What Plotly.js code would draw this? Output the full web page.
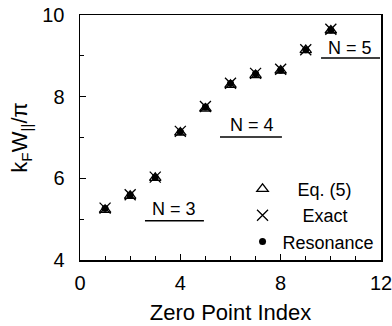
<!DOCTYPE html>
<html><head><meta charset="utf-8">
<script src="https://cdn.plot.ly/plotly-3.0.1.min.js"></script>
<style>html,body{margin:0;padding:0;background:#fff}#c{width:392px;height:326px}</style>
</head><body><div id="c"></div>
<script>
const zeroIndex = [1,2,3,4,5,6,7,8,9,10];
const eq5 = [5.23,5.57,6.01,7.12,7.71,8.29,8.53,8.64,9.14,9.62];
const exact = [5.27,5.60,6.03,7.15,7.76,8.33,8.57,8.67,9.15,9.65];
const resonance = [5.26,5.59,6.02,7.14,7.75,8.32,8.56,8.65,9.15,9.63];
const seriesNames = ["\u00A0\u00A0\u00A0Eq. (5)","\u00A0\u00A0\u00A0\u00A0Exact","Resonance"];
const groupLabels = ["N = 3","N = 4","N = 5"];
const groupX = [3.75,6.84,10.76];
const groupY = [5.25,7.31,9.19];
const lineX0 = [2.59,5.58,9.61];
const lineX1 = [4.94,8.05,11.96];
const lineY = [4.96,7.01,8.95];

const fam = '"Liberation Sans", Arial, Helvetica, sans-serif';
const font = {family:fam, color:'#000', size:18};
const traces = [
  {x:zeroIndex, y:eq5, mode:'markers', type:'scatter', name:seriesNames[0], legendgroup:'a',
   marker:{symbol:'triangle-up-open', size:10, color:'#000', line:{width:1.3,color:'#000'}}},
  {x:zeroIndex, y:exact, mode:'markers', type:'scatter', name:seriesNames[1], legendgroup:'b',
   marker:{symbol:'x-thin-open', size:11, color:'#000', line:{width:1.3,color:'#000'}}},
  {x:zeroIndex, y:resonance, mode:'markers', type:'scatter', name:seriesNames[2], legendgroup:'c',
   marker:{symbol:'circle', size:7, color:'#000'}}
];
const annotations = groupLabels.map((t,i)=>({x:groupX[i], y:groupY[i], xref:'x', yref:'y', text:t, showarrow:false, font:font}));
const shapes = groupLabels.map((t,i)=>({type:'line', xref:'x', yref:'y', x0:lineX0[i], x1:lineX1[i], y0:lineY[i], y1:lineY[i], line:{color:'#000', width:1.5}}));
const layout = {
  width:392, height:326, margin:{l:80, r:11, t:15, b:66},
  paper_bgcolor:'#fff', plot_bgcolor:'#fff', font:font, showlegend:true,
  xaxis:{range:[0,12], tickvals:[0,4,8,12], ticks:'inside', ticklen:6, showgrid:false, zeroline:false,
    showline:true, mirror:true, linecolor:'#000', linewidth:1.5, tickcolor:'#000', ticklabelstandoff:4,
    ticklabeloverflow:'allow', automargin:false,
    minor:{dtick:1, ticks:'inside', ticklen:4, tickcolor:'#000', showgrid:false},
    title:{text:'Zero Point Index', font:{family:fam, size:22, color:'#000'}, standoff:12},
    tickfont:{family:fam, size:20, color:'#000'}},
  yaxis:{range:[4,10], tickvals:[4,6,8,10], ticks:'inside', ticklen:6, showgrid:false, zeroline:false,
    showline:true, mirror:true, linecolor:'#000', linewidth:1.5, tickcolor:'#000', ticklabelstandoff:10,
    ticklabeloverflow:'allow', automargin:false,
    minor:{dtick:1, ticks:'inside', ticklen:4, tickcolor:'#000', showgrid:false},
    title:{text:'k<sub>F</sub>W<sub>||</sub>/π', font:{family:fam, size:22, color:'#000'}, standoff:8},
    tickfont:{family:fam, size:20, color:'#000'}},
  legend:{x:0.54, y:0.365, xanchor:'left', yanchor:'top', bgcolor:'rgba(0,0,0,0)', font:{family:fam, size:18, color:'#000'},
    itemsizing:'trace', traceorder:'grouped', tracegroupgap:0},
  annotations:annotations, shapes:shapes
};
Plotly.newPlot('c', traces, layout, {displayModeBar:false, staticPlot:true});
</script></body></html>
